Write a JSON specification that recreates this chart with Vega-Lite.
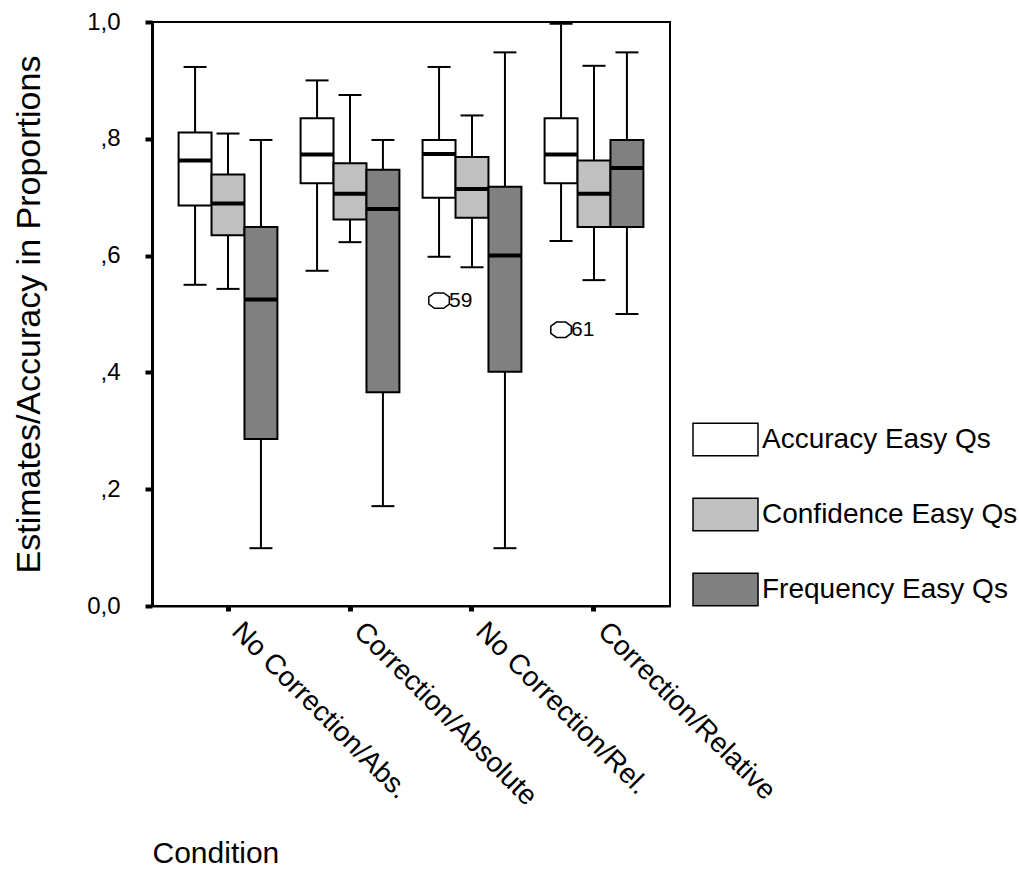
{
  "$schema": "https://vega.github.io/schema/vega-lite/v6.json",
  "autosize": {"type": "none"},
  "padding": {"left": 152, "top": 22, "right": 349, "bottom": 277},
  "width": 518,
  "height": 584,
  "background": "white",
  "config": {
    "font": "Liberation Sans",
    "view": {"stroke": "black", "strokeWidth": 2},
    "axis": {"grid": false, "domainColor": "black", "tickColor": "black", "labelColor": "black", "titleColor": "black", "titleFontWeight": "normal", "labelFont": "Liberation Sans", "titleFont": "Liberation Sans"}
  },
  "datasets": {
    "boxes": [
      {"condition": "No Correction/Abs.", "measure": "Accuracy Easy Qs", "lower": 0.550, "q1": 0.686, "median": 0.763, "q3": 0.811, "upper": 0.923},
      {"condition": "No Correction/Abs.", "measure": "Confidence Easy Qs", "lower": 0.543, "q1": 0.635, "median": 0.689, "q3": 0.739, "upper": 0.809},
      {"condition": "No Correction/Abs.", "measure": "Frequency Easy Qs", "lower": 0.099, "q1": 0.286, "median": 0.525, "q3": 0.649, "upper": 0.798},
      {"condition": "Correction/Absolute", "measure": "Accuracy Easy Qs", "lower": 0.574, "q1": 0.724, "median": 0.773, "q3": 0.835, "upper": 0.900},
      {"condition": "Correction/Absolute", "measure": "Confidence Easy Qs", "lower": 0.623, "q1": 0.662, "median": 0.706, "q3": 0.758, "upper": 0.875},
      {"condition": "Correction/Absolute", "measure": "Frequency Easy Qs", "lower": 0.171, "q1": 0.366, "median": 0.680, "q3": 0.747, "upper": 0.798},
      {"condition": "No Correction/Rel.", "measure": "Accuracy Easy Qs", "lower": 0.598, "q1": 0.699, "median": 0.774, "q3": 0.798, "upper": 0.923},
      {"condition": "No Correction/Rel.", "measure": "Confidence Easy Qs", "lower": 0.580, "q1": 0.665, "median": 0.714, "q3": 0.769, "upper": 0.840},
      {"condition": "No Correction/Rel.", "measure": "Frequency Easy Qs", "lower": 0.099, "q1": 0.401, "median": 0.600, "q3": 0.718, "upper": 0.948},
      {"condition": "Correction/Relative", "measure": "Accuracy Easy Qs", "lower": 0.625, "q1": 0.724, "median": 0.773, "q3": 0.835, "upper": 0.997},
      {"condition": "Correction/Relative", "measure": "Confidence Easy Qs", "lower": 0.558, "q1": 0.649, "median": 0.706, "q3": 0.763, "upper": 0.925},
      {"condition": "Correction/Relative", "measure": "Frequency Easy Qs", "lower": 0.500, "q1": 0.649, "median": 0.750, "q3": 0.798, "upper": 0.948}
    ],
    "outliers": [
      {"condition": "No Correction/Rel.", "measure": "Accuracy Easy Qs", "value": 0.523, "label": "59"},
      {"condition": "Correction/Relative", "measure": "Accuracy Easy Qs", "value": 0.473, "label": "61"}
    ]
  },
  "encoding": {
    "x": {
      "field": "condition", "type": "nominal",
      "sort": ["No Correction/Abs.", "Correction/Absolute", "No Correction/Rel.", "Correction/Relative"],
      "scale": {"paddingInner": 0.19, "paddingOuter": 0.218},
      "axis": {
        "title": "Condition", "titleFontSize": 30, "titleAnchor": "start", "titleAlign": "left", "titlePadding": 32,
        "labelAngle": 45, "labelAlign": "left", "labelBaseline": "top", "labelFontSize": 28, "labelPadding": 6, "labelOffset": 18,
        "tickSize": 5, "tickWidth": 5, "domainWidth": 2, "labelLimit": 400
      }
    },
    "xOffset": {
      "field": "measure", "type": "nominal",
      "sort": ["Accuracy Easy Qs", "Confidence Easy Qs", "Frequency Easy Qs"],
      "scale": {"paddingInner": 0, "paddingOuter": 0}
    }
  },
  "layer": [
    {
      "data": {"name": "boxes"},
      "mark": {"type": "rule", "stroke": "black", "strokeWidth": 2, "opacity": 1},
      "encoding": {
        "y": {"field": "lower", "type": "quantitative", "scale": {"domain": [0, 1], "nice": false, "zero": false},
          "axis": {
            "title": "Estimates/Accuracy in Proportions", "titleFontSize": 34, "titlePadding": 40,
            "values": [0, 0.2, 0.4, 0.6, 0.8, 1],
            "labelExpr": "datum.value == 0 ? '0,0' : (datum.value == 1 ? '1,0' : ',' + format(datum.value * 10, '.0f'))",
            "labelFontSize": 24, "labelPadding": 25, "tickSize": 7, "tickWidth": 4, "domainWidth": 3
          }},
        "y2": {"field": "upper"}
      }
    },
    {
      "data": {"name": "boxes"},
      "mark": {"type": "tick", "color": "black", "size": 23, "thickness": 2, "orient": "horizontal", "opacity": 1},
      "encoding": {"y": {"field": "lower", "type": "quantitative"}}
    },
    {
      "data": {"name": "boxes"},
      "mark": {"type": "tick", "color": "black", "size": 23, "thickness": 2, "orient": "horizontal", "opacity": 1},
      "encoding": {"y": {"field": "upper", "type": "quantitative"}}
    },
    {
      "data": {"name": "boxes"},
      "mark": {"type": "bar", "stroke": "black", "strokeWidth": 2, "opacity": 1},
      "encoding": {
        "y": {"field": "q1", "type": "quantitative"},
        "y2": {"field": "q3"},
        "color": {
          "field": "measure", "type": "nominal",
          "sort": ["Accuracy Easy Qs", "Confidence Easy Qs", "Frequency Easy Qs"],
          "scale": {"domain": ["Accuracy Easy Qs", "Confidence Easy Qs", "Frequency Easy Qs"], "range": ["#ffffff", "#c0c0c0", "#808080"]},
          "legend": {
            "title": null, "orient": "none", "legendX": 540, "legendY": 384, "padding": 0,
            "symbolType": "M-1,-0.5H1V0.5H-1Z", "symbolSize": 4225, "symbolStrokeColor": "black", "symbolStrokeWidth": 1.5, "symbolOpacity": 1,
            "labelFontSize": 28, "labelFont": "Liberation Sans", "labelColor": "black", "labelOffset": 3, "rowPadding": 22, "labelLimit": 400
          }
        }
      }
    },
    {
      "data": {"name": "boxes"},
      "mark": {"type": "tick", "color": "black", "size": 33, "thickness": 4, "orient": "horizontal", "opacity": 1},
      "encoding": {"y": {"field": "median", "type": "quantitative"}}
    },
    {
      "data": {"name": "outliers"},
      "mark": {"type": "point", "shape": "M-0.45,-0.75L0.45,-0.75L1,-0.35L1,0.35L0.45,0.75L-0.45,0.75L-1,0.35L-1,-0.35Z", "size": 420, "filled": false, "stroke": "black", "strokeWidth": 1.5, "opacity": 1},
      "encoding": {"y": {"field": "value", "type": "quantitative"}}
    },
    {
      "data": {"name": "outliers"},
      "mark": {"type": "text", "align": "left", "baseline": "middle", "dx": 10, "fontSize": 21, "font": "Liberation Sans", "color": "black"},
      "encoding": {"y": {"field": "value", "type": "quantitative"}, "text": {"field": "label"}}
    }
  ]
}
